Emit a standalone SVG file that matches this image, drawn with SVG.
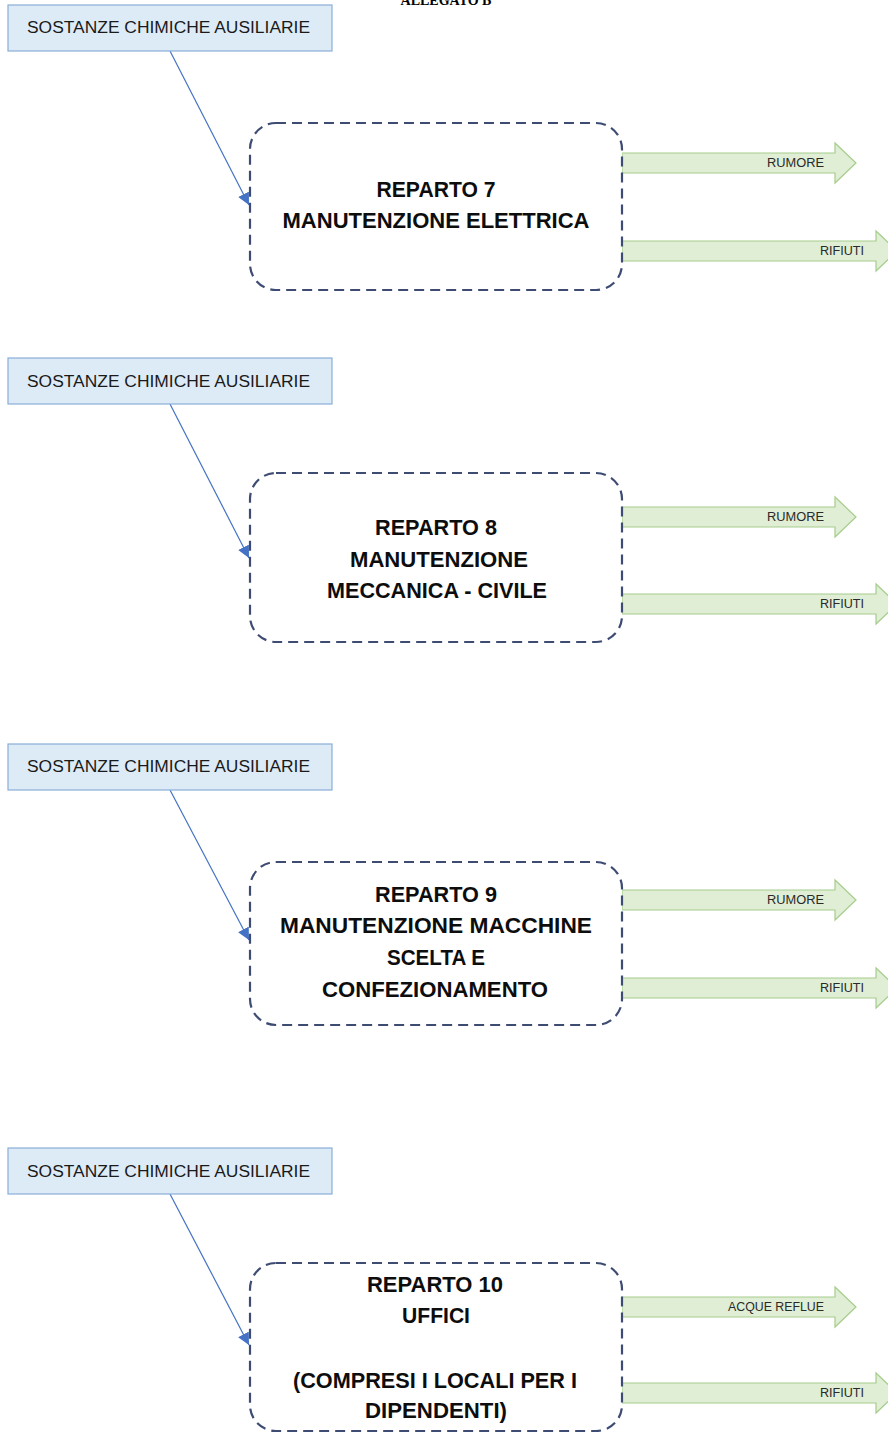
<svg xmlns="http://www.w3.org/2000/svg" xmlns:xlink="http://www.w3.org/1999/xlink" width="888" height="1432" viewBox="0 0 888 1432">
<style>
.src{fill:#DDEBF7;stroke:#8AAED8;stroke-width:1.2}
.srct{font-family:"Liberation Sans",Arial,sans-serif;font-size:16px;fill:#1a1a1a}
.dept{fill:#fff;stroke:#3E4C74;stroke-width:2.2;stroke-dasharray:10 6}
.dt{font-family:"Liberation Sans",Arial,sans-serif;font-size:22px;font-weight:bold;fill:#0d0d0d;text-anchor:middle}
.out{fill:#DFEED5;stroke:#A6CD8B;stroke-width:1.2}
.ot{font-family:"Liberation Sans",Arial,sans-serif;font-size:12px;fill:#2a2a2a;text-anchor:end}
.con{stroke:#4472C4;stroke-width:1.2;fill:none}
.title{font-family:"Liberation Serif","Times New Roman",serif;font-size:14px;font-weight:bold;fill:#000;text-anchor:middle}
</style>
<defs>
<marker id="ah" viewBox="0 0 12 12" refX="12" refY="6" markerWidth="12" markerHeight="12" markerUnits="userSpaceOnUse" orient="auto">
<path d="M0,0 L12,6 L0,12 Z" fill="#4472C4"/>
</marker>
<path id="arA" class="out" d="M622,-10 H835 V-20 L856,0 L835,20 V10 H622 Z"/>
<path id="arB" class="out" d="M622,-10 H876 V-20 L897,0 L876,20 V10 H622 Z"/>
</defs>
<rect width="888" height="1432" fill="#fff"/>
<text class="title" x="446" y="5">ALLEGATO B</text>

<g id="connectors">
<line class="con" x1="170" y1="51" x2="249" y2="205" marker-end="url(#ah)"/>
<line class="con" x1="170" y1="404" x2="249" y2="558" marker-end="url(#ah)"/>
<line class="con" x1="170" y1="790" x2="249" y2="940" marker-end="url(#ah)"/>
<line class="con" x1="170" y1="1194" x2="249" y2="1345" marker-end="url(#ah)"/>
</g>

<g id="src1"><rect class="src" x="8" y="5" width="324" height="46"/><text class="srct" x="27" y="33" textLength="283" lengthAdjust="spacingAndGlyphs">SOSTANZE CHIMICHE AUSILIARIE</text></g>
<g id="src2"><rect class="src" x="8" y="358" width="324" height="46"/><text class="srct" x="27" y="387" textLength="283" lengthAdjust="spacingAndGlyphs">SOSTANZE CHIMICHE AUSILIARIE</text></g>
<g id="src3"><rect class="src" x="8" y="744" width="324" height="46"/><text class="srct" x="27" y="772" textLength="283" lengthAdjust="spacingAndGlyphs">SOSTANZE CHIMICHE AUSILIARIE</text></g>
<g id="src4"><rect class="src" x="8" y="1148" width="324" height="46"/><text class="srct" x="27" y="1177" textLength="283" lengthAdjust="spacingAndGlyphs">SOSTANZE CHIMICHE AUSILIARIE</text></g>

<g id="out1">
<use xlink:href="#arA" transform="translate(0,163)"/><text class="ot" x="824" y="167" textLength="57" lengthAdjust="spacingAndGlyphs">RUMORE</text>
<use xlink:href="#arB" transform="translate(0,251)"/><text class="ot" x="864" y="255" textLength="44" lengthAdjust="spacingAndGlyphs">RIFIUTI</text>
</g>
<g id="out2">
<use xlink:href="#arA" transform="translate(0,517)"/><text class="ot" x="824" y="521" textLength="57" lengthAdjust="spacingAndGlyphs">RUMORE</text>
<use xlink:href="#arB" transform="translate(0,604)"/><text class="ot" x="864" y="608" textLength="44" lengthAdjust="spacingAndGlyphs">RIFIUTI</text>
</g>
<g id="out3">
<use xlink:href="#arA" transform="translate(0,900)"/><text class="ot" x="824" y="904" textLength="57" lengthAdjust="spacingAndGlyphs">RUMORE</text>
<use xlink:href="#arB" transform="translate(0,988)"/><text class="ot" x="864" y="992" textLength="44" lengthAdjust="spacingAndGlyphs">RIFIUTI</text>
</g>
<g id="out4">
<use xlink:href="#arA" transform="translate(0,1307)"/><text class="ot" x="824" y="1311" textLength="96" lengthAdjust="spacingAndGlyphs">ACQUE REFLUE</text>
<use xlink:href="#arB" transform="translate(0,1393)"/><text class="ot" x="864" y="1397" textLength="44" lengthAdjust="spacingAndGlyphs">RIFIUTI</text>
</g>

<g id="reparto7">
<rect class="dept" x="250" y="123" width="372" height="167" rx="26"/>
<text class="dt" x="436" y="197" textLength="119" lengthAdjust="spacingAndGlyphs">REPARTO 7</text>
<text class="dt" x="436" y="228" textLength="307" lengthAdjust="spacingAndGlyphs">MANUTENZIONE ELETTRICA</text>
</g>
<g id="reparto8">
<rect class="dept" x="250" y="473" width="372" height="169" rx="26"/>
<text class="dt" x="436" y="535" textLength="122" lengthAdjust="spacingAndGlyphs">REPARTO 8</text>
<text class="dt" x="439" y="567" textLength="178" lengthAdjust="spacingAndGlyphs">MANUTENZIONE</text>
<text class="dt" x="437" y="598" textLength="220" lengthAdjust="spacingAndGlyphs">MECCANICA - CIVILE</text>
</g>
<g id="reparto9">
<rect class="dept" x="250" y="862" width="372" height="163" rx="26"/>
<text class="dt" x="436" y="902" textLength="122" lengthAdjust="spacingAndGlyphs">REPARTO 9</text>
<text class="dt" x="436" y="933" textLength="312" lengthAdjust="spacingAndGlyphs">MANUTENZIONE MACCHINE</text>
<text class="dt" x="436" y="965" textLength="98" lengthAdjust="spacingAndGlyphs">SCELTA E</text>
<text class="dt" x="435" y="997" textLength="226" lengthAdjust="spacingAndGlyphs">CONFEZIONAMENTO</text>
</g>
<g id="reparto10">
<rect class="dept" x="250" y="1263" width="372" height="168" rx="26"/>
<text class="dt" x="435" y="1292" textLength="136" lengthAdjust="spacingAndGlyphs">REPARTO 10</text>
<text class="dt" x="436" y="1323" textLength="68" lengthAdjust="spacingAndGlyphs">UFFICI</text>
<text class="dt" x="435" y="1388" textLength="284" lengthAdjust="spacingAndGlyphs">(COMPRESI I LOCALI PER I</text>
<text class="dt" x="436" y="1418" textLength="142" lengthAdjust="spacingAndGlyphs">DIPENDENTI)</text>
</g>
</svg>
